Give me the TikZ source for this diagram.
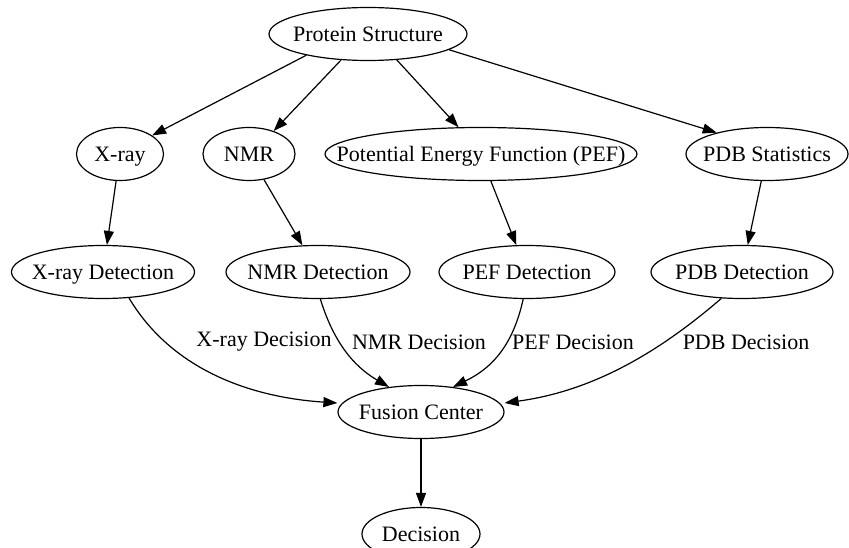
\documentclass[tikz,border=0pt]{standalone}
\usepackage{fontspec}
\setmainfont{Liberation Serif}
\usetikzlibrary{shapes.geometric,arrows.meta}
\newcommand\zb[1]{\makebox[0pt]{\rule[-6pt]{0pt}{27pt}#1}}
\tikzset{
  nd/.style={ellipse,draw,line width=1.2pt,inner sep=0pt,minimum height=53pt,font=\fontsize{22}{24}\selectfont},
  arr/.style={line width=1.2pt,-{Triangle[length=14pt,width=10pt]}},
  lbl/.style={font=\fontsize{22}{24}\selectfont,inner sep=0pt}
}
\begin{document}
\begin{tikzpicture}[x=1pt,y=-1pt]
\useasboundingbox (0,0) rectangle (849,548);
\node[nd,minimum width=198pt] (ps) at (368,34) {\zb{Protein Structure}};
\node[nd,minimum width=87pt] (xr) at (120,154) {\zb{X-ray}};
\node[nd,minimum width=92pt] (nmr) at (249,154) {\zb{NMR}};
\node[nd,minimum width=312pt] (pef) at (481,154) {\zb{Potential Energy Function (PEF)}};
\node[nd,minimum width=162pt] (pdbs) at (767,154) {\zb{PDB Statistics}};
\node[nd,minimum width=183pt] (xd) at (103,272) {\zb{X-ray Detection}};
\node[nd,minimum width=184pt] (nd2) at (318,272) {\zb{NMR Detection}};
\node[nd,minimum width=176pt] (pd) at (527,272) {\zb{PEF Detection}};
\node[nd,minimum width=182pt] (bd) at (742,272) {\zb{PDB Detection}};
\node[nd,minimum width=166pt] (fc) at (421,412) {\zb{Fusion Center}};
\node[nd,minimum width=118pt] (dec) at (421,534) {\zb{Decision}};

\draw[arr] (ps.-161) -- (xr.30);
\draw[arr] (ps.-136) -- (nmr.43);
\draw[arr] (ps.-42) -- (pef.130);
\draw[arr] (ps.-11) -- (pdbs.157);
\draw[arr] (xr) -- (xd);
\draw[arr] (nmr) -- (nd2);
\draw[arr] (pef.-70) -- (pd);
\draw[arr] (pdbs) -- (bd);

\draw[arr] (xd.-45) .. controls (175,375) and (260,398) .. (fc.west |- 0,403);
\draw[arr] (nd2.-85) .. controls (336,350) and (360,370) .. (fc.142);
\draw[arr] (pd.-98) .. controls (512,350) and (488,370) .. (fc.38);
\draw[arr] (bd.-128) .. controls (650,360) and (585,392) .. (fc.east |- 0,403);

\node[lbl] (lx) at (264,342) {X-ray Decision};
\node[lbl] (ln) at (419,342) {NMR Decision};
\node[lbl] (lp) at (573,342) {PEF Decision};
\node[lbl] (lb) at (746,342) {PDB Decision};

\draw[arr] (fc) -- (dec);
\end{tikzpicture}
\end{document}
